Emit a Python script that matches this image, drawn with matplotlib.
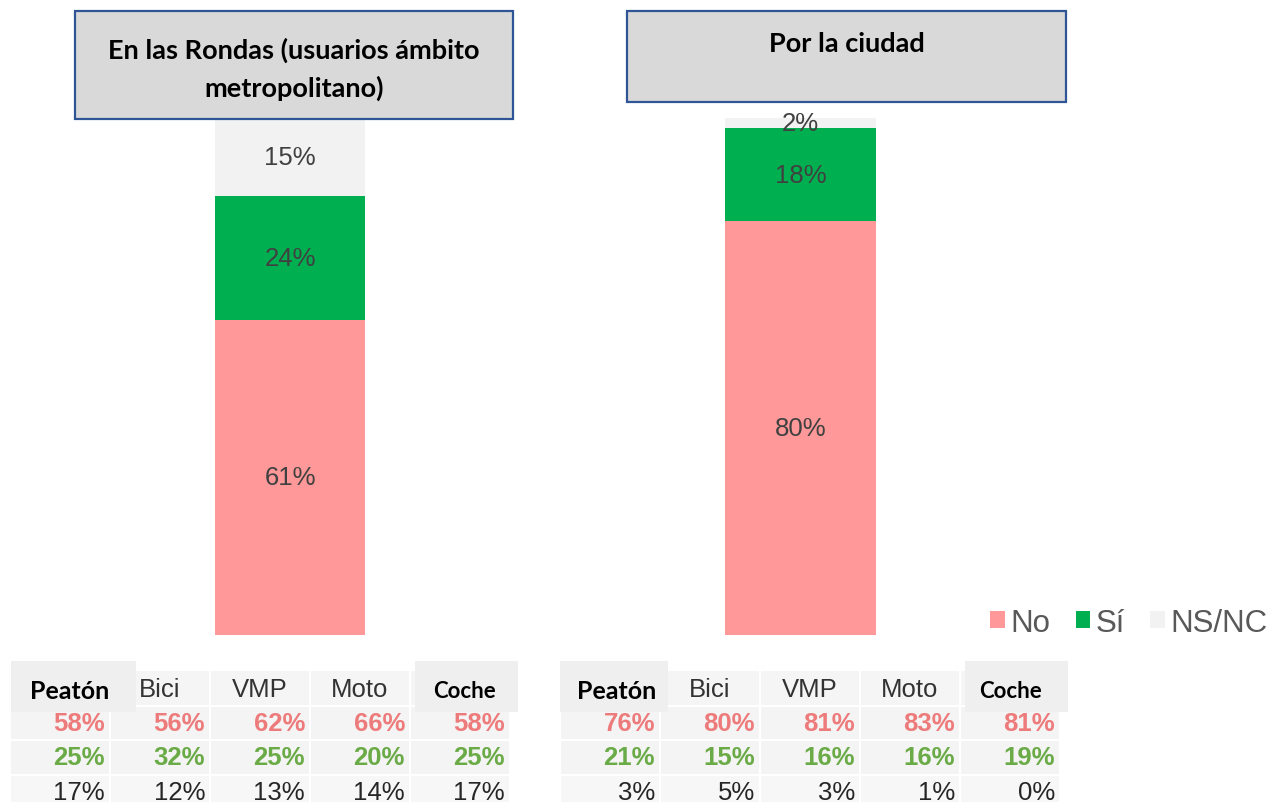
import matplotlib
matplotlib.use("Agg")
import matplotlib.pyplot as plt
from matplotlib.patches import Rectangle, Patch

# ---------------- data ----------------
titles = ["En las Rondas (usuarios ámbito\nmetropolitano)", "Por la ciudad"]
series = ["No", "Sí", "NS/NC"]
no_vals = [61, 80]
si_vals = [24, 18]
nsnc_vals = [15, 2]

modes = ["Peatón", "Bici", "VMP", "Moto", "Coche"]
rondas_no = [58, 56, 62, 66, 58]
rondas_si = [25, 32, 25, 20, 25]
rondas_ns = [17, 12, 13, 14, 17]
ciudad_no = [76, 80, 81, 83, 81]
ciudad_si = [21, 15, 16, 16, 19]
ciudad_ns = [3, 5, 3, 1, 0]

# ---------------- style ----------------
W, H = 1272, 803
C_NO, C_SI, C_NS = "#ff9999", "#00b050", "#f2f2f2"
T_NO, T_SI, T_NS = "#ee7b7b", "#6aab47", "#262626"
SANS = "Liberation Sans"
CAL = "Lato"

def fx(x):
    return x / W

def fy(y):
    return 1 - y / H

fig = plt.figure(figsize=(W / 100, H / 100), dpi=100)
fig.patch.set_facecolor("white")

# ---------------- stacked bars ----------------
bar_specs = [(215, 150), (725, 151)]
for j, (x0, w) in enumerate(bar_specs):
    ax = fig.add_axes([fx(x0), fy(636), w / W, 517 / H])
    ax.set_xlim(-0.5, 0.5)
    ax.set_ylim(0, 100)
    ax.axis("off")
    b1 = ax.bar(0, no_vals[j], width=1, color=C_NO, label=series[0])
    b2 = ax.bar(0, si_vals[j], width=1, bottom=no_vals[j], color=C_SI, label=series[1])
    b3 = ax.bar(0, nsnc_vals[j], width=1, bottom=no_vals[j] + si_vals[j], color=C_NS, label=series[2])
    for bars, v in ((b1, no_vals[j]), (b2, si_vals[j]), (b3, nsnc_vals[j])):
        ax.bar_label(bars, labels=[f"{v}%"], label_type="center",
                     fontsize=18.5, color="#404040", family=SANS)

# ---------------- title boxes ----------------
boxes = [(75, 12, 513, 120), (627, 12, 1066, 103)]
title_y = [69, 44]
for (x0, y0, x1, y1), t, ty in zip(boxes, titles, title_y):
    fig.add_artist(Rectangle((fx(x0), fy(y1)), (x1 - x0) / W, (y1 - y0) / H,
                             transform=fig.transFigure, facecolor="#d9d9d9",
                             edgecolor="#2f5597", linewidth=1.6, zorder=5))
    fig.text(fx((x0 + x1) / 2), fy(ty), t, ha="center", va="center",
             fontsize=19.5, fontweight="bold", family=CAL, color="black",
             linespacing=1.6, zorder=6)

# ---------------- legend ----------------
handles = [Patch(facecolor=c, edgecolor="none") for c in (C_NO, C_SI, C_NS)]
fig.legend(handles, series, loc="center right", bbox_to_anchor=(fx(1296), fy(624)),
           ncol=3, frameon=False, handlelength=0.45, handleheight=0.45,
           handletextpad=0.2, columnspacing=0.8,
           prop={"family": SANS, "size": 22.5}, labelcolor="#595959")

# ---------------- tables ----------------
def draw_table(x0, no, si, ns, peat_box, coche_box, peat_cx, coche_cx):
    ax = fig.add_axes([fx(x0), fy(810), 500 / W, 141 / H])
    ax.set_xlim(0, 5)
    ax.set_ylim(2.5, -1.6)
    ax.axis("off")
    for i in range(5):
        ax.add_patch(Rectangle((i, -1.55), 1, 1.05, facecolor="#f5f5f5",
                               edgecolor="white", linewidth=1.5))
        for k in range(3):
            ax.add_patch(Rectangle((i, k - 0.5), 1, 1, facecolor="#f4f4f4" if k < 2 else "#f7f7f7",
                                   edgecolor="white", linewidth=1.5))
    # pasted header boxes
    for (bx0, bx1), label, cx, fs in ((peat_box, modes[0], peat_cx, 18),
                                      (coche_box, modes[4], coche_cx, 16)):
        ax.add_patch(Rectangle((bx0, -1.80), bx1 - bx0, 1.48, facecolor="#efefef",
                               edgecolor="none", zorder=3, clip_on=False))
        ax.text(cx, -0.95, label, ha="center", va="center", fontsize=fs,
                fontweight="bold", family=CAL, color="black", zorder=4)
    for i in range(1, 4):
        ax.text(i + 0.5, -1.0, modes[i], ha="center", va="center", fontsize=18.5,
                family=SANS, color="#333333", zorder=4)
    for k, (vals, col, wt) in enumerate(((no, T_NO, "bold"), (si, T_SI, "bold"), (ns, T_NS, "normal"))):
        for i, v in enumerate(vals):
            ax.text(i + 0.95, k, f"{v}%", ha="right", va="center", fontsize=18.5,
                    family=SANS, color=col, fontweight=wt, zorder=4)

draw_table(10, rondas_no, rondas_si, rondas_ns, (0.01, 1.26), (4.05, 5.08), 0.6, 4.55)
draw_table(560, ciudad_no, ciudad_si, ciudad_ns, (0.0, 1.08), (4.05, 5.08), 0.57, 4.5)

fig.savefig("out.png", dpi=100, facecolor="white")
